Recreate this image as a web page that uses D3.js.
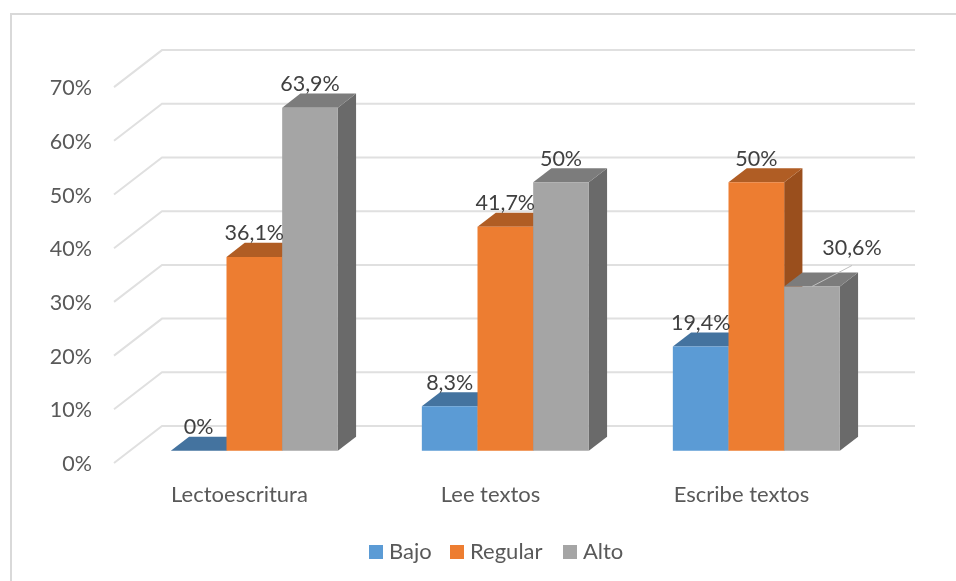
<!DOCTYPE html>
<html>
<head>
<meta charset="utf-8">
<script src="https://cdn.jsdelivr.net/npm/d3@7"></script>
<style>
  html, body { margin: 0; padding: 0; background: #fff; }
  text { font-family: Lato, "Open Sans", sans-serif; }
  svg { filter: blur(0.4px); }
</style>
</head>
<body>
<div id="chart"></div>
<script>
const categories = ['Lectoescritura', 'Lee textos', 'Escribe textos'];
const seriesNames = ['Bajo', 'Regular', 'Alto'];
const bajo = [0, 8.3, 19.4];
const regular = [36.1, 41.7, 50];
const alto = [63.9, 50, 30.6];
const valueLabels = [['0%', '8,3%', '19,4%'], ['36,1%', '41,7%', '50%'], ['63,9%', '50%', '30,6%']];
const ticks = [0, 10, 20, 30, 40, 50, 60, 70];
const seriesValues = [bajo, regular, alto];

const width = 956, height = 581;

// front/back corners of the 3d floor
const frontLeft = 114, frontRight = 867, frontBase = 463;
const depthX = 48, depthY = 37;
const barDepthStart = 0.33, barDepthEnd = 0.71;

const colors = ['#5b9bd5', '#ed7d31', '#a5a5a5'];
const tops = ['#44739f', '#b05d24', '#7c7c7c'];
const sides = ['#375e82', '#9a4f1d', '#6a6a6a'];

const y = d3.scaleLinear().domain([0, 10]).range([0, 53.7]);
const x = d3.scaleBand().domain(categories).range([frontLeft, frontRight]);
const xSeries = d3.scaleBand().domain(seriesNames).range([0, 167]);

// oblique projection: px on the front plane, value, depth 0..1
const project = (px, v, d) => [px + d * depthX, frontBase - y(v) - d * depthY];
const groupStart = cat => x(cat) + (x.bandwidth() - xSeries.range()[1]) / 2 - 1;

const svg = d3.select('#chart').append('svg')
  .attr('width', width)
  .attr('height', height)
  .style('display', 'block');

// chart frame, only top and left show in the picture
svg.append('path')
  .attr('d', 'M11,581V14H956')
  .attr('fill', 'none')
  .attr('stroke', '#d9d9d9')
  .attr('stroke-width', 2);

// gridlines: side wall + back wall
const gridLine = d3.line();
svg.append('g').selectAll('path')
  .data(ticks)
  .join('path')
    .attr('d', t => gridLine([project(frontLeft, t, 0), project(frontLeft, t, 1), project(frontRight, t, 1)]))
    .attr('fill', 'none')
    .attr('stroke', '#e0e0e0')
    .attr('stroke-width', 2);

svg.append('g').selectAll('text')
  .data(ticks)
  .join('text')
    .attr('x', 92)
    .attr('y', t => frontBase - y(t) + 8)
    .attr('text-anchor', 'end')
    .attr('font-size', 21.5)
    .attr('fill', '#595959')
    .text(t => t + '%');

// bars, drawn left to right so later series cover the sides of earlier ones
const poly = pts => 'M' + pts.map(p => p.join(',')).join('L') + 'Z';
categories.forEach((cat, c) => {
  seriesNames.forEach((name, s) => {
    const x0 = groupStart(cat) + xSeries(name);
    const x1 = x0 + xSeries.bandwidth();
    const v = seriesValues[s][c];
    const g = svg.append('g');
    g.append('path')
      .attr('d', poly([project(x1, 0, barDepthStart), project(x1, 0, barDepthEnd), project(x1, v, barDepthEnd), project(x1, v, barDepthStart)]))
      .attr('fill', sides[s]);
    g.append('path')
      .attr('d', poly([project(x0, v, barDepthStart), project(x0, v, barDepthEnd), project(x1, v, barDepthEnd), project(x1, v, barDepthStart)]))
      .attr('fill', tops[s]);
    g.append('path')
      .attr('d', poly([project(x0, 0, barDepthStart), project(x1, 0, barDepthStart), project(x1, v, barDepthStart), project(x0, v, barDepthStart)]))
      .attr('fill', colors[s]);
  });
});

// value labels sit above the front top edge, 30,6% was dragged off with a leader line
categories.forEach((cat, c) => {
  seriesNames.forEach((name, s) => {
    const x0 = groupStart(cat) + xSeries(name);
    const v = seriesValues[s][c];
    const a = project(x0 + xSeries.bandwidth() / 2, v, barDepthStart);
    const moved = c === 2 && s === 2;
    svg.append('text')
      .attr('x', a[0] + (moved ? 40 : 0))
      .attr('y', a[1] + (moved ? -31 : -16.5))
      .attr('text-anchor', 'middle')
      .attr('font-size', 21.5)
      .attr('fill', '#404040')
      .text(valueLabels[s][c]);
    if (moved) {
      svg.append('line')
        .attr('x1', a[0]).attr('y1', a[1])
        .attr('x2', a[0] + 40).attr('y2', a[1] - 21)
        .attr('stroke', '#bfbfbf')
        .attr('stroke-width', 1);
    }
  });
});

// category labels
svg.append('g').selectAll('text')
  .data(categories)
  .join('text')
    .attr('x', d => x(d) + x.bandwidth() / 2)
    .attr('y', 501.5)
    .attr('text-anchor', 'middle')
    .attr('font-size', 22)
    .attr('fill', '#595959')
    .text(d => d);

// legend
const legendX = [369, 450, 563];
const legend = svg.append('g').selectAll('g')
  .data(seriesNames)
  .join('g')
    .attr('transform', (d, i) => `translate(${legendX[i]},545)`);
legend.append('rect')
  .attr('width', 14).attr('height', 14)
  .attr('fill', (d, i) => colors[i]);
legend.append('text')
  .attr('x', 20).attr('y', 14)
  .attr('font-size', 22)
  .attr('fill', '#595959')
  .text(d => d);
</script>
</body>
</html>
